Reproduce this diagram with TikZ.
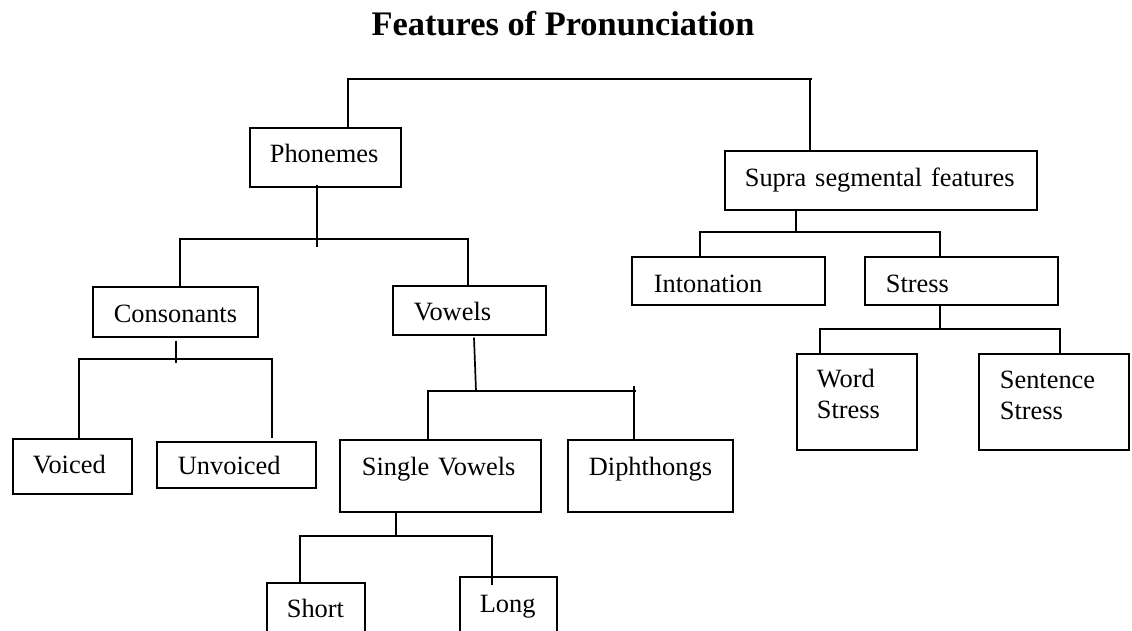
\documentclass[tikz,border=0pt]{standalone}
\usepackage{fontspec}
\setmainfont{Liberation Serif}
\newcommand\bodyfnt{\fontsize{26.4}{31}\selectfont}
\newcommand\titlefnt{\fontsize{34.4}{40}\selectfont\bfseries}
\tikzset{
  box/.style={draw, line width=1.7pt, anchor=north west, inner ysep=0pt, align=left, font=\bodyfnt},
  conn/.style={line width=1.7pt},
}
\begin{document}
\begin{tikzpicture}[x=1pt,y=-1pt]
\useasboundingbox (0,0) rectangle (1132,630);
\clip (0,0) rectangle (1132,630);
\fill[white] (0,0) rectangle (1132,630);

\node[font=\titlefnt, anchor=base, inner sep=0pt] (title) at (563,35) {Features of Pronunciation};

\node[box, inner xsep=20pt, text width=111pt, text height=35pt, text depth=24pt] (ph) at (249,127) {Phonemes};
\node[box, inner xsep=20pt, text width=272pt, text height=36pt, text depth=23pt] (sup) at (724,150) {Supra segmental features};
\node[box, inner xsep=21pt, text width=123pt, text height=36pt, text depth=14pt] (con) at (92,286) {Consonants};
\node[box, inner xsep=21pt, text width=111pt, text height=35pt, text depth=14pt] (vow) at (392,285) {Vowels};
\node[box, inner xsep=22pt, text width=149pt, text height=36pt, text depth=12pt] (ito) at (631,256) {Intonation};
\node[box, inner xsep=21pt, text width=151pt, text height=36pt, text depth=12pt] (str) at (864,256) {Stress};
\node[box, inner xsep=20pt, text width=79pt, text height=35pt, text depth=20pt] (voi) at (12,438) {Voiced};
\node[box, inner xsep=21pt, text width=117pt, text height=33pt, text depth=13pt] (unv) at (156,441) {Unvoiced};
\node[box, inner xsep=22pt, text width=157pt, text height=36pt, text depth=36pt] (sv) at (339,439) {Single Vowels};
\node[box, inner xsep=21pt, text width=123pt, text height=36pt, text depth=36pt] (dip) at (567,439) {Diphthongs};
\node[box, inner xsep=20pt, text width=80pt, text height=34pt, text depth=62pt] (ws) at (796,353) {Word\\Stress};
\node[box, inner xsep=21pt, text width=108pt, text height=35pt, text depth=61pt] (ss) at (978,353) {Sentence\\Stress};
\node[box, inner xsep=20pt, text width=58pt, text height=35pt, text depth=40pt] (sh) at (266,582) {Short};
\node[box, inner xsep=20pt, text width=57pt, text height=36pt, text depth=45pt] (lo) at (459,576) {Long};

% top level
\coordinate (a1) at (348,79);
\coordinate (a2) at (812,79);
\coordinate (a3) at (810,79);
\draw[conn] (ph.north -| a1) -- (a1) -- (a2);
\draw[conn] (a3) -- (a3 |- sup.north);

% phonemes
\coordinate (b0) at (317,247);
\coordinate (b1) at (180,239);
\coordinate (b2) at (468,239);
\draw[conn] ([yshift=3pt]ph.south -| b0) -- (b0);
\draw[conn] ([yshift=-1pt]con.north -| b1) -- (b1) -- (b2) -- ([yshift=-2pt]vow.north -| b2);

% consonants
\coordinate (c0) at (176,363);
\coordinate (c1) at (79,359);
\coordinate (c2) at (272,359);
\draw[conn] ([yshift=-3pt]con.south -| c0) -- (c0);
\draw[conn] (voi.north -| c1) -- (c1) -- (c2) -- ([yshift=3pt]unv.north -| c2);

% vowels
\coordinate (d00) at (474,0);
\coordinate (d0) at (476,391);
\coordinate (d1) at (428,391);
\coordinate (d2) at (636,391);
\coordinate (d3) at (634,386);
\draw[conn] ([yshift=-2pt]vow.south -| d00) -- (d0);
\draw[conn] (sv.north -| d1) -- (d1) -- (d2);
\draw[conn] (d3) -- (d3 |- dip.north);

% single vowels
\coordinate (e0) at (396,536);
\coordinate (e1) at (300,536);
\coordinate (e2) at (492,536);
\draw[conn] (sv.south -| e0) -- (e0);
\draw[conn] ([yshift=-2pt]sh.north -| e1) -- (e1) -- (e2) -- ([yshift=-9pt]lo.north -| e2);

% supra segmental
\coordinate (f0) at (796,232);
\coordinate (f1) at (700,232);
\coordinate (f2) at (940,232);
\draw[conn] ([yshift=2pt]sup.south -| f0) -- (f0);
\draw[conn] (ito.north -| f1) -- (f1) -- (f2) -- (str.north -| f2);

% stress
\coordinate (g0) at (940,329);
\coordinate (g1) at (820,329);
\coordinate (g2) at (1060,329);
\draw[conn] (str.south -| g0) -- (g0);
\draw[conn] (ws.north -| g1) -- (g1) -- (g2) -- (ss.north -| g2);
\end{tikzpicture}
\end{document}
